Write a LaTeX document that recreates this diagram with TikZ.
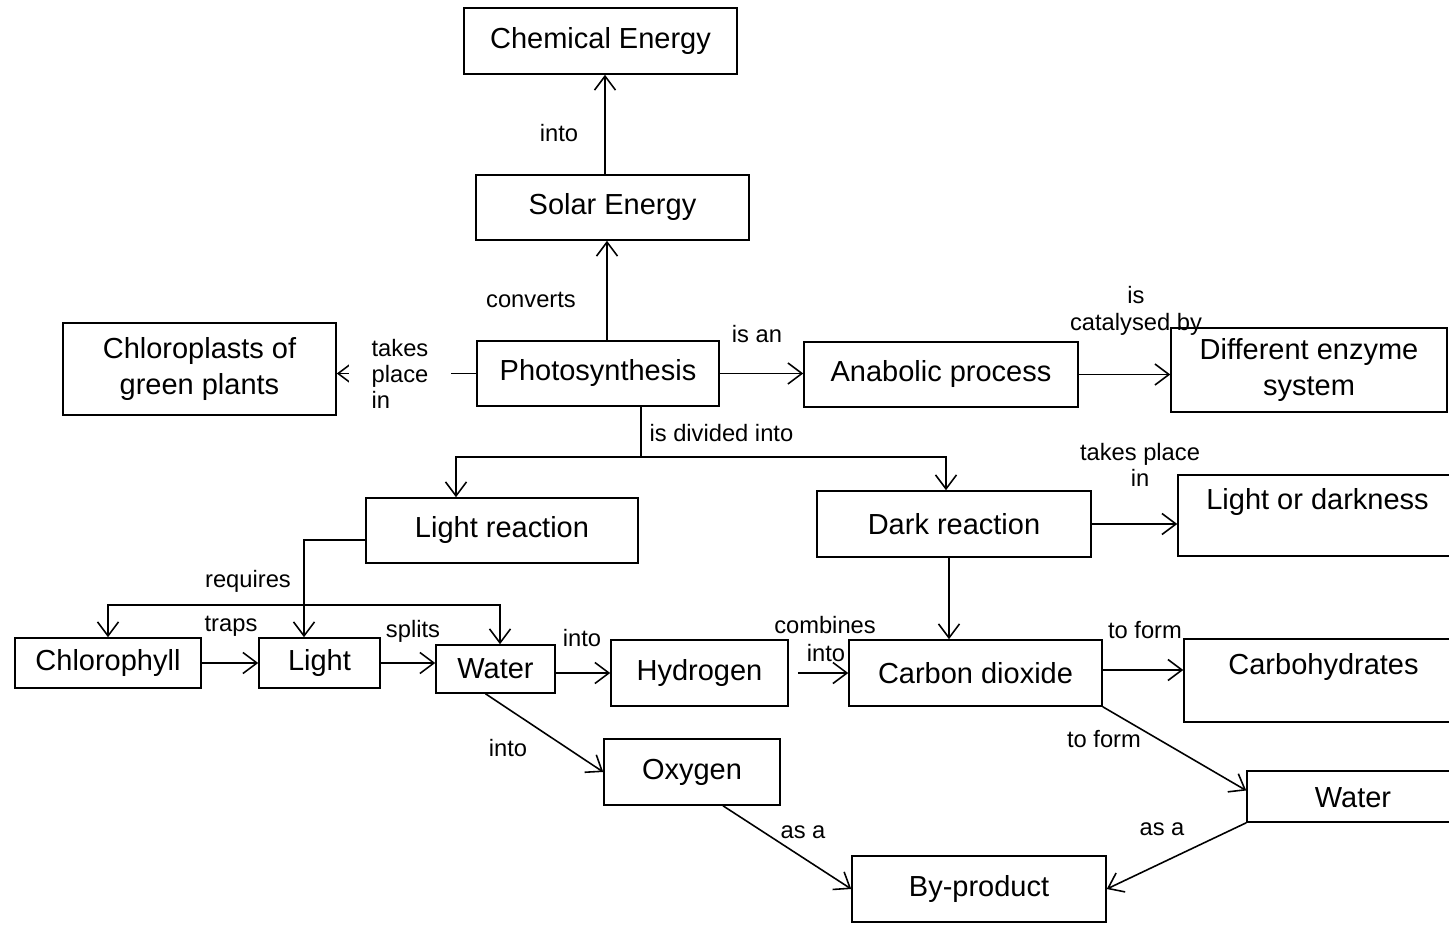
\documentclass[tikz,border=0pt]{standalone}
\usepackage{fontspec}
\setmainfont{Liberation Sans}
\usetikzlibrary{arrows.meta}

\begin{document}
\begin{tikzpicture}[x=0.02cm,y=-0.02cm,
		box/.style={draw,line width=0.9pt,inner sep=2pt,font=\fontsize{16.5}{20}\selectfont,align=center},
		txt/.style={font=\fontsize{16.5}{20}\selectfont,inner sep=1pt},
		lbl/.style={font=\fontsize{13.5}{15}\selectfont,inner sep=1pt,align=center},
		arr/.style={line width=0.9pt,-{Straight Barb[length=0.28cm,width=0.42cm]}},
		ln/.style={line width=0.9pt}]
			\clip (0,0) rectangle (1449,925);
			% top of the map
			\node[box,minimum width=5.46cm,minimum height=1.32cm] (ce) at (600.5,41){Chemical Energy};
			\node[box,minimum width=5.46cm,minimum height=1.3cm] (se) at (612.5,207.5){Solar Energy};
			\node[box,minimum width=4.84cm,minimum height=1.3cm] (ps) at (598,373.5){Photosynthesis};
			\node[box,minimum width=5.46cm,minimum height=1.84cm] (cp) at (199.5,369){Chloroplasts of\\green plants};
			\node[box,minimum width=5.48cm,minimum height=1.3cm] (ap) at (941,374.5){Anabolic process};
			\node[box,minimum width=5.52cm,minimum height=1.68cm] (de) at (1309,370){Different enzyme\\system};
			% the two reactions
			\node[box,minimum width=5.44cm,minimum height=1.3cm] (lr) at (502,530.5){Light reaction};
			\node[box,minimum width=5.48cm,minimum height=1.32cm] (dr) at (954,524){Dark reaction};
			\node[box,minimum width=6.04cm,minimum height=1.62cm] (ld) at (1329,515.5){};
			\node[txt] (ldt) at (1317.5,502){Light or darkness};
			% bottom row
			\node[box,minimum width=3.72cm,minimum height=1.0cm] (cl) at (108,663){Chlorophyll};
			\node[box,minimum width=2.42cm,minimum height=1.0cm] (lt) at (319.5,663){Light};
			\node[box,minimum width=2.38cm,minimum height=0.96cm] (wa) at (495.5,669){Water};
			\node[box,minimum width=3.54cm,minimum height=1.32cm] (hy) at (699.5,673){Hydrogen};
			\node[box,minimum width=5.06cm,minimum height=1.32cm] (cd) at (975.5,673){Carbon dioxide};
			\node[box,minimum width=5.92cm,minimum height=1.66cm] (ch) at (1332,680.5){};
			\node[txt] (cht) at (1323.5,667){Carbohydrates};
			\node[box,minimum width=3.52cm,minimum height=1.32cm] (ox) at (692,772){Oxygen};
			\node[box,minimum width=4.66cm,minimum height=1.02cm] (wb) at (1363.5,796.5){};
			\node[txt] (wbt) at (1353,798){Water};
			\node[box,minimum width=5.08cm,minimum height=1.32cm] (bp) at (979,889){By-product};
			% links
			\draw[arr] ([xshift=0.18cm]ps.north) -- ([xshift=0.18cm]ps.north |- se.south) node[lbl] at (531,300){converts};
			\draw[arr] ([xshift=-0.15cm]se.north) -- ([xshift=-0.15cm]se.north |- ce.south) node[lbl] at (559,133){into};
			\draw[arr] (ps.west) -- (ps.west -| cp.east) node[lbl,fill=white,inner xsep=0.45cm,align=left] at (400,374){takes\\place\\in};
			\draw[arr] (ps.east) -- (ps.east -| ap.west) node[lbl] at (757,334){is an};
			\draw[arr] (ap.east) -- (ap.east -| de.west) node[lbl] at (1136,311){is\\catalysed by};
			\coordinate (dv) at (641,457);
			\draw[ln] (dv |- ps.south) -- (dv) node[lbl,anchor=west] at (647,433){is divided into};
			\draw[arr] (dv) -| ([xshift=-0.92cm]lr.north);
			\draw[arr] (dv) -| ([xshift=-0.16cm]dr.north);
			\draw[arr] (dr.east) -- (dr.east -| ld.west) node[lbl] at (1140,465){takes place\\in};
			\draw[arr] ([xshift=-0.1cm]dr.south) -- ([xshift=-0.1cm]dr.south |- cd.north);
			\draw[arr] ([yshift=-0.19cm]lr.west) -| ([xshift=-0.31cm]lt.north) node[lbl] at (248,581){requires};
			\coordinate (rq) at (304,605);
			\draw[arr] (rq) -| (cl.north);
			\draw[arr] (rq) -| ([xshift=0.09cm]wa.north);
			\draw[arr] (cl.east) -- (lt.west) node[lbl] at (231,626){traps};
			\draw[arr] (lt.east) -- (lt.east -| wa.west) node[lbl] at (413,631){splits};
			\draw[arr] (wa.east |- hy) -- (hy.west) node[lbl] at (582,638){into};
			\draw[arr,shorten <=0.18cm] (hy.east) -- (cd.west) node[lbl] at (825,625){combines} node[lbl] at (826,653){into};
			\draw[arr] (cd.east |- 0,670) -- (ch.west |- 0,670) node[lbl] at (1145,630){to form};
			\draw[arr] (cd.south east) -- ([yshift=0.12cm]wb.west) node[lbl] at (1104,739){to form};
			\draw[arr] ([xshift=-0.2cm]wa.south) -- (ox.west) node[lbl] at (508,748){into};
			\draw[arr] ([xshift=0.62cm]ox.south) -- (bp.west) node[lbl] at (803,832){as a};
			\draw[arr] (wb.south west) -- (bp.east) node[lbl] at (1162,829){as a};
		\end{tikzpicture}
\end{document}
